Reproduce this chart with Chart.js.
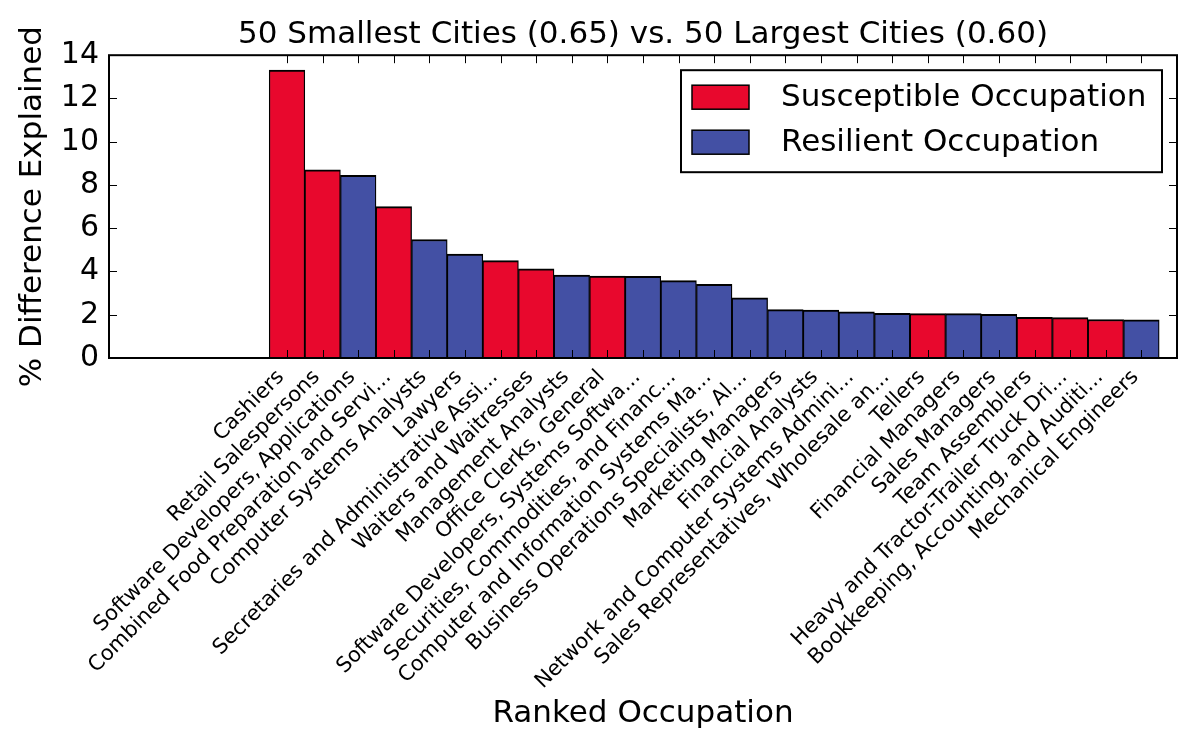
<!DOCTYPE html>
<html>
<head>
<meta charset="utf-8">
<script src="https://cdn.jsdelivr.net/npm/chart.js@4.4.0/dist/chart.umd.min.js"></script>
<style>
  html, body { margin: 0; padding: 0; background: #fff; }
  #wrap { width: 1200px; height: 750px; }
</style>
</head>
<body>
<div id="wrap"><canvas id="chart" width="1200" height="750"></canvas></div>
<script>
// ranked occupations, largest share first
const occupations = [
  'Cashiers',
  'Retail Salespersons',
  'Software Developers, Applications',
  'Combined Food Preparation and Servi...',
  'Computer Systems Analysts',
  'Lawyers',
  'Secretaries and Administrative Assi...',
  'Waiters and Waitresses',
  'Management Analysts',
  'Office Clerks, General',
  'Software Developers, Systems Softwa...',
  'Securities, Commodities, and Financ...',
  'Computer and Information Systems Ma...',
  'Business Operations Specialists, Al...',
  'Marketing Managers',
  'Financial Analysts',
  'Network and Computer Systems Admini...',
  'Sales Representatives, Wholesale an...',
  'Tellers',
  'Financial Managers',
  'Sales Managers',
  'Team Assemblers',
  'Heavy and Tractor-Trailer Truck Dri...',
  'Bookkeeping, Accounting, and Auditi...',
  'Mechanical Engineers'
];

// % difference explained
const values = [13.31, 8.70, 8.44, 7.00, 5.48, 4.80, 4.50, 4.12, 3.83, 3.79, 3.78, 3.58, 3.41,
                2.78, 2.24, 2.21, 2.13, 2.07, 2.05, 2.05, 2.02, 1.88, 1.87, 1.78, 1.76];

// S = susceptible, R = resilient
const kinds = ['S', 'S', 'R', 'S', 'R', 'R', 'S', 'S', 'R', 'S', 'R', 'R', 'R',
               'R', 'R', 'R', 'R', 'R', 'S', 'R', 'R', 'S', 'S', 'S', 'R'];

const yTicks = [0, 2, 4, 6, 8, 10, 12, 14];

const FONT = 'DejaVu Sans';
const RED = 'rgb(232, 8, 45)';
const BLUE = 'rgb(67, 80, 164)';

function pointsFor(kind) {
  const pts = [];
  occupations.forEach(function (name, i) {
    if (kinds[i] === kind) pts.push({ x: i, y: values[i] });
  });
  return pts;
}

// frame, inward ticks on all four sides, and the legend box inside the plot
const frameAndLegend = {
  id: 'frameAndLegend',
  afterDraw(chart) {
    const ctx = chart.ctx;
    const a = chart.chartArea;
    const x = chart.scales.x;
    const y = chart.scales.y;
    ctx.save();

    ctx.strokeStyle = '#000';
    ctx.lineWidth = 1;
    ctx.beginPath();
    x.ticks.forEach(function (t) {
      const px = Math.round(x.getPixelForValue(t.value)) + 0.5;
      ctx.moveTo(px, a.bottom); ctx.lineTo(px, a.bottom - 8);
      ctx.moveTo(px, a.top); ctx.lineTo(px, a.top + 8);
    });
    y.ticks.forEach(function (t) {
      const py = Math.round(y.getPixelForValue(t.value)) + 0.5;
      ctx.moveTo(a.left, py); ctx.lineTo(a.left + 8, py);
      ctx.moveTo(a.right, py); ctx.lineTo(a.right - 8, py);
    });
    ctx.stroke();

    ctx.lineWidth = 2;
    ctx.strokeRect(a.left, a.top, a.right - a.left, a.bottom - a.top);

    // legend
    const bw = 481, bh = 102;
    const bx = a.right - 15 - bw;
    const by = a.top + 15;
    ctx.fillStyle = '#fff';
    ctx.fillRect(bx, by, bw, bh);
    ctx.lineWidth = 2;
    ctx.strokeRect(bx, by, bw, bh);
    ctx.font = '31px "' + FONT + '"';
    ctx.textBaseline = 'middle';
    ctx.textAlign = 'left';
    chart.data.datasets.forEach(function (ds, i) {
      const cy = by + 27 + i * 45;
      ctx.fillStyle = ds.backgroundColor;
      ctx.fillRect(bx + 11, cy - 12, 57, 24);
      ctx.lineWidth = 1.5;
      ctx.strokeRect(bx + 11, cy - 12, 57, 24);
      ctx.fillStyle = '#000';
      ctx.fillText(ds.label, bx + 100, cy + 1);
    });
    ctx.restore();
  }
};

const barStyle = {
  borderColor: '#000',
  borderWidth: { top: 2, left: 1.3, right: 1.3, bottom: 0 },
  borderSkipped: false,
  grouped: false,
  barPercentage: 1,
  categoryPercentage: 1
};

new Chart(document.getElementById('chart'), {
  type: 'bar',
  data: {
    datasets: [
      Object.assign({ label: 'Susceptible Occupation', data: pointsFor('S'), backgroundColor: RED }, barStyle),
      Object.assign({ label: 'Resilient Occupation', data: pointsFor('R'), backgroundColor: BLUE }, barStyle)
    ]
  },
  options: {
    responsive: false,
    animation: false,
    layout: { padding: { left: 0, right: 23, top: 0, bottom: 0 } },
    plugins: {
      legend: { display: false },
      tooltip: { enabled: false },
      title: {
        display: true,
        fullSize: false,
        text: '50 Smallest Cities (0.65) vs. 50 Largest Cities (0.60)',
        color: '#000',
        font: { family: FONT, size: 31, weight: 'normal' },
        padding: { top: 16, bottom: 2 }
      }
    },
    scales: {
      x: {
        type: 'linear',
        min: -5,
        max: 25,
        offset: false,
        grid: { display: false, drawTicks: false, offset: false },
        border: { display: false },
        afterBuildTicks: function (scale) {
          scale.ticks = occupations.map(function (name, i) { return { value: i }; });
        },
        afterFit: function (scale) { scale.height = 392; },
        ticks: {
          autoSkip: false,
          minRotation: 45,
          maxRotation: 45,
          padding: 7,
          labelOffset: -6,
          color: '#000',
          font: { family: FONT, size: 21 },
          callback: function (value) { return occupations[value]; }
        },
        title: {
          display: true,
          text: 'Ranked Occupation',
          color: '#000',
          font: { family: FONT, size: 31 },
          padding: { top: 0, bottom: 17 }
        }
      },
      y: {
        min: 0,
        max: 14,
        afterBuildTicks: function (scale) {
          scale.ticks = yTicks.map(function (v) { return { value: v }; });
        },
        afterFit: function (scale) { scale.width = 109; },
        grid: { display: false, drawTicks: false },
        border: { display: false },
        ticks: {
          padding: 10,
          color: '#000',
          font: { family: FONT, size: 30 }
        },
        title: {
          display: true,
          text: '% Difference Explained',
          color: '#000',
          font: { family: FONT, size: 31 },
          padding: { top: 14, bottom: 0 }
        }
      }
    }
  },
  plugins: [frameAndLegend]
});
</script>
</body>
</html>
